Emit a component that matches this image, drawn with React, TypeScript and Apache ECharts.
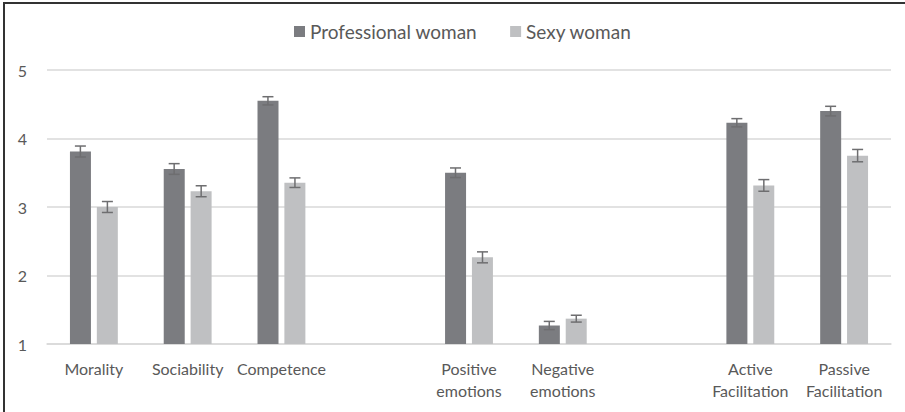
import React, { useEffect, useRef } from "react";
import * as echarts from "echarts";

const categories = [
  "Morality",
  "Sociability",
  "Competence",
  " ",
  "Positive\nemotions",
  "Negative\nemotions",
  "  ",
  "Active\nFacilitation",
  "Passive\nFacilitation",
];
const professional = [3.81, 3.555, 4.55, null, 3.5, 1.27, null, 4.23, 4.4];
const sexy = [3.0, 3.23, 3.355, null, 2.265, 1.37, null, 3.315, 3.75];
const professionalErr = [0.08, 0.078, 0.06, null, 0.07, 0.06, null, 0.06, 0.07];
const sexyErr = [0.08, 0.08, 0.07, null, 0.08, 0.05, null, 0.085, 0.09];
const yTicks = { min: 1, max: 5, interval: 1 };

const FONT = "Lato";
const TEXT = "#595959";
const BAR_W = 21;
const OFFSET = 13.5;

function errData(vals: (number | null)[], errs: (number | null)[]) {
  const out: any[] = [];
  vals.forEach((v, i) => {
    if (v != null && errs[i] != null) out.push([i, v, v - (errs[i] as number), v + (errs[i] as number)]);
  });
  return out;
}

function errRender(offset: number) {
  return (params: any, api: any) => {
    const i = api.value(0);
    const lo = api.coord([i, api.value(2)]);
    const hi = api.coord([i, api.value(3)]);
    const x = lo[0] + offset;
    const cap = 5.5;
    const style = { stroke: "#6e6e70", lineWidth: 1.5 };
    return {
      type: "group",
      children: [
        { type: "line", shape: { x1: x, y1: lo[1], x2: x, y2: hi[1] }, style },
        { type: "line", shape: { x1: x - cap, y1: lo[1], x2: x + cap, y2: lo[1] }, style },
        { type: "line", shape: { x1: x - cap, y1: hi[1], x2: x + cap, y2: hi[1] }, style },
      ],
    };
  };
}

export default function App() {
  const ref = useRef<HTMLDivElement>(null);
  useEffect(() => {
    const chart = echarts.init(ref.current!, null, { renderer: "svg" });
    chart.setOption({
      animation: false,
      backgroundColor: "#ffffff",
      textStyle: { fontFamily: FONT },
      legend: {
        left: 289,
        top: 17,
        icon: "rect",
        itemWidth: 11,
        itemHeight: 11,
        itemGap: 33,
        textStyle: { fontFamily: FONT, fontSize: 19, color: TEXT },
        data: ["Professional woman", "Sexy woman"],
      },
      grid: { left: 47, right: 14, top: 70, bottom: 68, containLabel: false },
      xAxis: {
        type: "category",
        data: categories,
        axisLine: { lineStyle: { color: "#d9d9d9", width: 1.5 } },
        axisTick: { show: false },
        axisLabel: {
          interval: 0,
          fontFamily: FONT,
          fontSize: 16,
          color: TEXT,
          lineHeight: 22,
          margin: 13,
        },
      },
      yAxis: {
        type: "value",
        min: yTicks.min,
        max: yTicks.max,
        interval: yTicks.interval,
        axisLine: { show: false },
        axisTick: { show: false },
        splitLine: { lineStyle: { color: "#d9d9d9", width: 1.5 } },
        axisLabel: { fontFamily: FONT, fontSize: 16, color: TEXT, margin: 20 },
      },
      series: [
        {
          name: "Professional woman",
          type: "bar",
          data: professional,
          barWidth: BAR_W,
          barGap: "28%",
          itemStyle: { color: "#7b7c80" },
        },
        {
          name: "Sexy woman",
          type: "bar",
          data: sexy,
          barWidth: BAR_W,
          barGap: "28%",
          itemStyle: { color: "#bfc0c2" },
        },
        {
          type: "custom",
          data: errData(professional, professionalErr),
          renderItem: errRender(-OFFSET),
          encode: { x: 0, y: [1, 2, 3] },
          z: 10,
          silent: true,
        },
        {
          type: "custom",
          data: errData(sexy, sexyErr),
          renderItem: errRender(OFFSET),
          encode: { x: 0, y: [1, 2, 3] },
          z: 10,
          silent: true,
        },
      ],
      graphic: [
        { type: "line", shape: { x1: 3, y1: 3, x2: 905, y2: 3 }, style: { stroke: "#333333", lineWidth: 2 } },
        { type: "line", shape: { x1: 4, y1: 3, x2: 4, y2: 412 }, style: { stroke: "#333333", lineWidth: 2 } },
      ],
    });
    return () => chart.dispose();
  }, []);
  return <div ref={ref} style={{ position: "fixed", left: 0, top: 0, width: 905, height: 412 }} />;
}
